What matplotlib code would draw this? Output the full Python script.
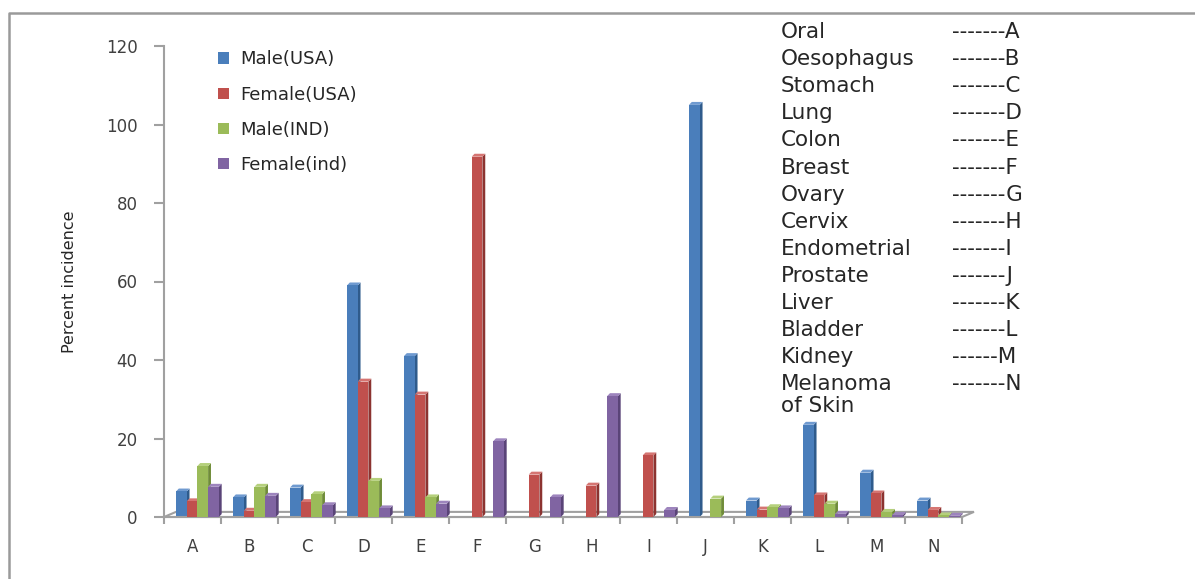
import matplotlib
matplotlib.use("Agg")
import matplotlib.pyplot as plt
from matplotlib.patches import Polygon
from matplotlib.lines import Line2D
import numpy as np

plt.rcParams['font.family'] = ['DejaVu Sans']

# categories on the x axis and the key printed on the right
categories = ['A', 'B', 'C', 'D', 'E', 'F', 'G', 'H', 'I', 'J', 'K', 'L', 'M', 'N']
cancer_names = ['Oral', 'Oesophagus', 'Stomach', 'Lung', 'Colon', 'Breast', 'Ovary',
                'Cervix', 'Endometrial', 'Prostate', 'Liver', 'Bladder', 'Kidney',
                'Melanoma\nof Skin']
key_codes = ['-------A', '-------B', '-------C', '-------D', '-------E', '-------F',
             '-------G', '-------H', '-------I', '-------J', '-------K', '-------L',
             '------M', '-------N']

series_names = ['Male(USA)', 'Female(USA)', 'Male(IND)', 'Female(ind)']
male_usa = [6.5, 5.0, 7.5, 59.0, 41.0, 0, 0, 0, 0, 105.0, 4.2, 23.5, 11.3, 4.2]
female_usa = [4.0, 1.6, 3.8, 34.5, 31.2, 91.8, 10.8, 8.0, 15.7, 0, 1.9, 5.5, 6.0, 1.8]
male_ind = [13.0, 7.7, 5.8, 9.2, 5.0, 0, 0, 0, 0, 4.7, 2.5, 3.4, 1.3, 0.4]
female_ind = [7.7, 5.4, 3.0, 2.2, 3.4, 19.3, 5.0, 30.8, 1.8, 0, 2.2, 0.8, 0.5, 0.3]

front_cols = ['#4A7EBB', '#C0504D', '#9BBB59', '#8064A2']
side_cols = ['#2F5B8C', '#8C3330', '#6F8C38', '#5A4478']
top_cols = ['#6F9AD0', '#D57572', '#B5D07C', '#9D84BD']
axis_grey = '#A0A0A0'
text_col = '#404040'

fig = plt.figure(figsize=(11.95, 5.79), dpi=100)
ax = fig.add_axes([164 / 1195, 62 / 579, 798 / 1195, 471 / 579])

x = np.arange(len(categories))
all_series = [male_usa, female_usa, male_ind, female_ind]
bw = 0.188
dx, dy = 0.05, 0.75  # 3d depth of the bars

# floor of the 3d plot
floor = Polygon([(-0.5, 0), (13.5, 0), (13.71, 1.3), (-0.29, 1.3)], closed=True,
                facecolor='white', edgecolor=axis_grey, lw=1.5, zorder=1, clip_on=False)
ax.add_patch(floor)

for k, vals in enumerate(all_series):
    pos = x + 0.086 + (k - 1.5) * bw
    for p, v in zip(pos, vals):
        if v <= 0:
            continue
        l, r = p - bw / 2, p + bw / 2
        side = Polygon([(r, 0), (r + dx, dy), (r + dx, v + dy), (r, v)],
                       facecolor=side_cols[k], edgecolor='none', zorder=2 + k, clip_on=False)
        top = Polygon([(l, v), (r, v), (r + dx, v + dy), (l + dx, v + dy)],
                      facecolor=top_cols[k], edgecolor='none', zorder=2 + k, clip_on=False)
        ax.add_patch(side)
        ax.add_patch(top)
    ax.bar(pos, vals, width=bw, color=front_cols[k], zorder=2 + k,
           label=series_names[k], clip_on=False)

ax.set_xlim(-0.5, 13.5)
ax.set_ylim(0, 120)
ax.set_yticks(np.arange(0, 121, 20))
ax.set_xticks(x)
ax.set_xticklabels(categories)
ax.set_xticks(np.arange(-0.5, 14, 1), minor=True)
ax.tick_params(axis='x', which='major', length=0, pad=15, labelsize=12, labelcolor=text_col)
ax.tick_params(axis='x', which='minor', length=5, width=1.5, color=axis_grey, direction='out')
ax.tick_params(axis='y', length=7, width=1.5, color=axis_grey, pad=12,
               labelsize=12, labelcolor=text_col)

for s in ['top', 'right']:
    ax.spines[s].set_visible(False)
for s in ['left', 'bottom']:
    ax.spines[s].set_color(axis_grey)
    ax.spines[s].set_linewidth(1.5)

ax.set_ylabel('Percent incidence', fontsize=11.5, color='#262626', labelpad=21)

leg = ax.legend(loc='upper left', bbox_to_anchor=(38 / 798, 1.025), frameon=False,
                fontsize=13, handlelength=0.6, handleheight=0.6, handletextpad=0.6,
                labelspacing=0.95)
for t in leg.get_texts():
    t.set_color('#262626')

# key of cancer sites at the right
y0 = 33
for i, (nm, code) in enumerate(zip(cancer_names, key_codes)):
    yy = 1 - (y0 + 27.1 * i) / 579
    top_y = yy + 11 / 579
    fig.text(781 / 1195, top_y, nm, fontsize=15.5, color='#262626', va='top',
             ha='left', linespacing=1.1)
    fig.text(952 / 1195, top_y, code, fontsize=15.5, color='#262626', va='top', ha='left')

# outer frame (top and left edges only)
fig.add_artist(Line2D([9 / 1195, 9 / 1195, 1.0], [0.0, 1 - 13 / 579, 1 - 13 / 579],
                      transform=fig.transFigure, color='#9A9A9A', lw=1.8))

fig.savefig('out.png', dpi=100)
